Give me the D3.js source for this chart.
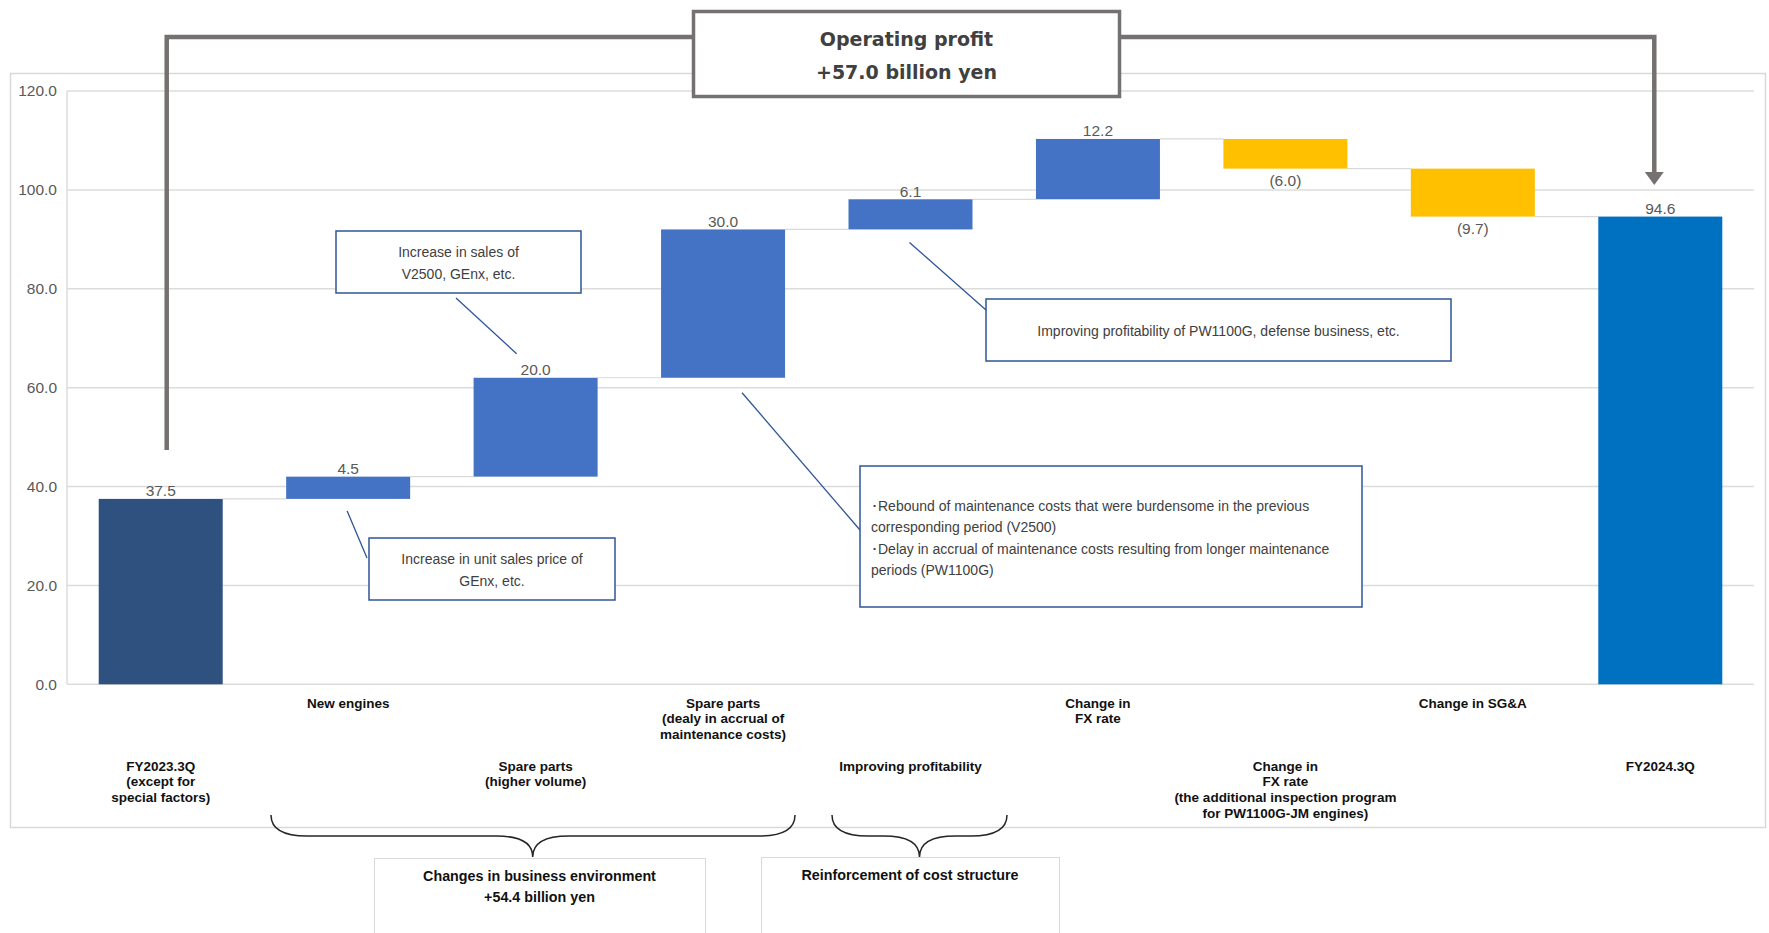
<!DOCTYPE html>
<html>
<head>
<meta charset="utf-8">
<script src="https://cdn.jsdelivr.net/npm/d3@7"></script>
<style>
  body { margin: 0; background: #fff; }
  svg { display: block; }
</style>
</head>
<body>
<svg id="chart" width="1769" height="933"></svg>
<script>
// ---- data ----
const categories = [
  "FY2023.3Q\n(except for\nspecial factors)",
  "New engines",
  "Spare parts\n(higher volume)",
  "Spare parts\n(dealy in accrual of\nmaintenance costs)",
  "Improving profitability",
  "Change in\nFX rate",
  "Change in\nFX rate\n(the additional inspection program\nfor PW1100G-JM engines)",
  "Change in SG&A",
  "FY2024.3Q"
];
const values = [37.5, 4.5, 20.0, 30.0, 6.1, 12.2, -6.0, -9.7, 94.6];
const barKinds = ["base", "step", "step", "step", "step", "step", "step", "step", "total"];
const yTicks = [0, 20, 40, 60, 80, 100, 120];
const headline = ["Operating profit", "+57.0 billion yen"];
const groupNotes = [
  ["Changes in business environment", "+54.4 billion yen"],
  ["Reinforcement of cost structure"]
];
const noteSalesVolume = ["Increase in sales of", "V2500, GEnx, etc."];
const noteUnitPrice = ["Increase in unit sales price of", "GEnx, etc."];
const noteMaintenance = [
  "･Rebound of maintenance costs that were burdensome in the previous",
  "corresponding period (V2500)",
  "･Delay in accrual of maintenance costs resulting from longer maintenance",
  "periods (PW1100G)"
];
const noteProfitability = ["Improving profitability of PW1100G, defense business, etc."];

// ---- waterfall geometry from the values ----
let running = 0;
const bars = values.map((v, i) => {
  const kind = barKinds[i];
  let lo, hi;
  if (kind === "step") {
    lo = Math.min(running, running + v);
    hi = Math.max(running, running + v);
    running += v;
  } else {
    lo = 0; hi = v; running = v;
  }
  return { i, v, kind, lo, hi, end: running };
});

const colors = { base: "#2F5180", up: "#4472C4", down: "#FFC000", total: "#0070C0" };
const fillOf = b => b.kind === "base" ? colors.base : b.kind === "total" ? colors.total : (b.v >= 0 ? colors.up : colors.down);
const fmtVal = v => v < 0 ? `(${d3.format(".1f")(-v)})` : d3.format(".1f")(v);

const svg = d3.select("#chart");
const FONT = "'Liberation Sans', Arial, sans-serif";

const x = d3.scaleBand()
  .domain(d3.range(categories.length))
  .range([67, 1754])
  .paddingInner(0.3385)
  .paddingOuter(0.1692);
const y = d3.scaleLinear().domain([0, 120]).range([684.3, 91]);
const bw = x.bandwidth();
const cx = i => x(i) + bw / 2;

// chart frame
svg.append("rect")
  .attr("x", 10.5).attr("y", 73.5).attr("width", 1755).attr("height", 754)
  .attr("fill", "#fff").attr("stroke", "#D9D9D9").attr("stroke-width", 1.5);

// gridlines
svg.append("g").selectAll("line").data(yTicks).join("line")
  .attr("x1", 67).attr("x2", 1754)
  .attr("y1", d => y(d)).attr("y2", d => y(d))
  .attr("stroke", "#DCDCDC").attr("stroke-width", 1.5);
svg.append("line")
  .attr("x1", 67).attr("x2", 67).attr("y1", y(120)).attr("y2", y(0))
  .attr("stroke", "#DCDCDC").attr("stroke-width", 1.5);

// value axis labels
const yAxis = svg.append("g")
  .attr("transform", "translate(67,0)")
  .call(d3.axisLeft(y).tickValues(yTicks).tickFormat(d3.format(".1f")).tickSize(0).tickPadding(10));
yAxis.select(".domain").remove();
yAxis.selectAll("text")
  .attr("font-family", FONT).attr("font-size", 15.5).attr("fill", "#595959");

// connectors between bars
svg.append("g").selectAll("line").data(bars.slice(0, -1)).join("line")
  .attr("x1", b => x(b.i) + bw).attr("x2", b => x(b.i + 1))
  .attr("y1", b => y(b.end)).attr("y2", b => y(b.end))
  .attr("stroke", "#D9D9D9").attr("stroke-width", 1.2);

// bars
svg.append("g").selectAll("rect").data(bars).join("rect")
  .attr("x", b => x(b.i)).attr("width", bw)
  .attr("y", b => y(b.hi)).attr("height", b => y(b.lo) - y(b.hi))
  .attr("fill", fillOf);

// value labels
svg.append("g").selectAll("text").data(bars).join("text")
  .attr("x", b => cx(b.i))
  .attr("y", b => b.v < 0 ? y(b.lo) + 17 : y(b.hi) - 2.5)
  .attr("text-anchor", "middle")
  .attr("font-family", FONT).attr("font-size", 15.5).attr("fill", "#595959")
  .text(b => fmtVal(b.v));

// category labels, alternating between two rows
const catG = svg.append("g");
categories.forEach((c, i) => {
  const t = catG.append("text")
    .attr("x", cx(i))
    .attr("y", i % 2 === 0 ? 770.5 : 707.5)
    .attr("text-anchor", "middle")
    .attr("font-family", FONT).attr("font-size", 13.5).attr("font-weight", "bold").attr("fill", "#111");
  c.split("\n").forEach((line, k) => {
    t.append("tspan").attr("x", cx(i)).attr("dy", k === 0 ? 0 : 15.7).text(line);
  });
});

// callout boxes with leader lines
const NOTE_BLUE = "#2F5597";
function callout(box, lines, leader, align) {
  const g = svg.append("g");
  g.append("line")
    .attr("x1", leader[0]).attr("y1", leader[1]).attr("x2", leader[2]).attr("y2", leader[3])
    .attr("stroke", NOTE_BLUE).attr("stroke-width", 1.3);
  g.append("rect")
    .attr("x", box.x).attr("y", box.y).attr("width", box.w).attr("height", box.h)
    .attr("fill", "#fff").attr("stroke", NOTE_BLUE).attr("stroke-width", 1.5);
  lines.forEach((line, k) => {
    g.append("text")
      .attr("x", align === "start" ? box.x + 11 : box.x + box.w / 2)
      .attr("y", box.firstBaseline + k * box.lineGap)
      .attr("text-anchor", align === "start" ? "start" : "middle")
      .attr("font-family", FONT).attr("font-size", 14).attr("fill", "#404040")
      .text(line);
  });
}
const top3 = values[0] + values[1] + values[2];
callout({ x: 336, y: 231, w: 245, h: 62, firstBaseline: 257, lineGap: 21.5 },
  noteSalesVolume, [456, 298, cx(2) - 19, y(top3) - 24], "middle");
callout({ x: 369, y: 538, w: 246, h: 62, firstBaseline: 564, lineGap: 21.5 },
  noteUnitPrice, [cx(1) - 1, y(values[0]) + 12, 367, 558], "middle");
callout({ x: 860, y: 466, w: 502, h: 141, firstBaseline: 511, lineGap: 21.4 },
  noteMaintenance, [cx(3) + 19, y(top3) + 15, 860, 530], "start");
callout({ x: 986, y: 299, w: 465, h: 62, firstBaseline: 335.5, lineGap: 21.5 },
  noteProfitability, [cx(4) - 1, y(top3 + values[3]) + 13, 986, 310], "middle");

// headline bracket spanning start to end
const GREY = "#767171";
svg.append("path")
  .attr("d", `M${cx(0) + 6},450 V37 H692 M1121,37 H${cx(8) - 6} V174`)
  .attr("fill", "none").attr("stroke", GREY).attr("stroke-width", 4.5);
svg.append("path")
  .attr("d", `M${cx(8) - 15.5},172 H${cx(8) + 3.5} L${cx(8) - 6},185 Z`)
  .attr("fill", GREY);
svg.append("rect")
  .attr("x", 693.5).attr("y", 11.5).attr("width", 426).attr("height", 85)
  .attr("fill", "#fff").attr("stroke", GREY).attr("stroke-width", 3.5);
headline.forEach((line, k) => {
  svg.append("text")
    .attr("x", 906.5).attr("y", 46 + k * 33)
    .attr("text-anchor", "middle")
    .attr("font-family", "'DejaVu Sans', Verdana, sans-serif")
    .attr("font-size", 19).attr("font-weight", "bold").attr("fill", "#404040")
    .text(line);
});

// group braces under the categories
function brace(x1, x2, xt) {
  const yTop = 815, yMid = 836, yTip = 857, r = 36;
  return `M${x1},${yTop} Q${x1},${yMid} ${x1 + r},${yMid} L${xt - r},${yMid} ` +
         `Q${xt},${yMid} ${xt},${yTip} Q${xt},${yMid} ${xt + r},${yMid} ` +
         `L${x2 - r},${yMid} Q${x2},${yMid} ${x2},${yTop}`;
}
svg.append("path").attr("d", brace(271, 795, 532.7))
  .attr("fill", "none").attr("stroke", "#262626").attr("stroke-width", 1.5);
svg.append("path").attr("d", brace(832, 1007, 919.5))
  .attr("fill", "none").attr("stroke", "#262626").attr("stroke-width", 1.5);

// group summary boxes
const groupBoxes = [{ x: 374, y: 858, w: 331 }, { x: 761, y: 857, w: 298 }];
groupNotes.forEach((lines, gi) => {
  const b = groupBoxes[gi];
  svg.append("rect")
    .attr("x", b.x + 0.5).attr("y", b.y + 0.5).attr("width", b.w).attr("height", 120)
    .attr("fill", "#fff").attr("stroke", "#D9D9D9").attr("stroke-width", 1);
  lines.forEach((line, k) => {
    svg.append("text")
      .attr("x", b.x + b.w / 2).attr("y", b.y + 23 + k * 21.3)
      .attr("text-anchor", "middle")
      .attr("font-family", FONT).attr("font-size", 14.3).attr("font-weight", "bold").attr("fill", "#111")
      .text(line);
  });
});
</script>
</body>
</html>
